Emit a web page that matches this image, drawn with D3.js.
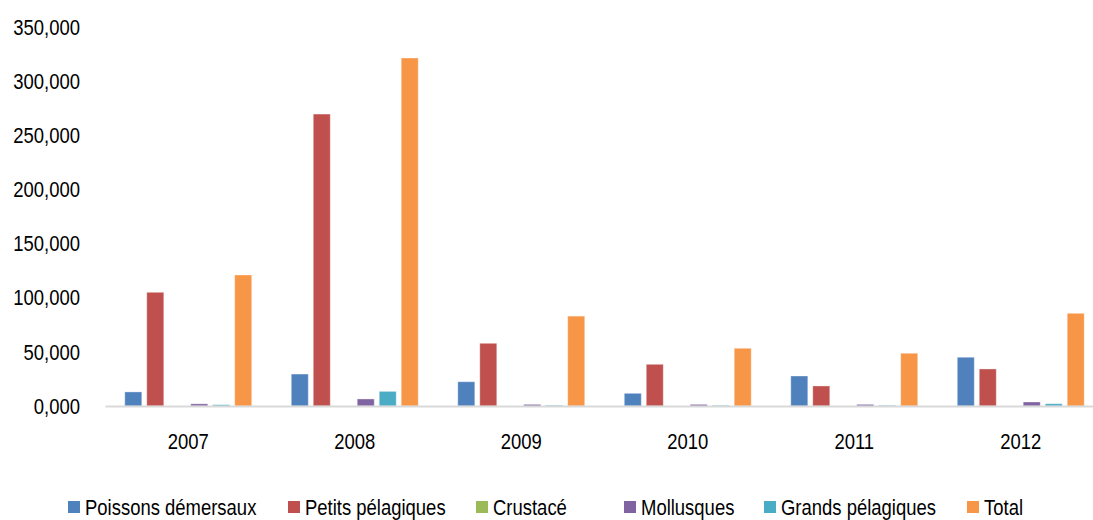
<!DOCTYPE html>
<html>
<head>
<meta charset="utf-8">
<script src="https://cdn.jsdelivr.net/npm/d3@7"></script>
<style>
  body { margin: 0; background: #fff; }
  text { font-family: "Liberation Sans", Arial, sans-serif; fill: #000; }
</style>
</head>
<body>
<div id="chart"></div>
<script>
// Data (tonnes)
var years = ['2007', '2008', '2009', '2010', '2011', '2012'];
var series = ['Poissons démersaux', 'Petits pélagiques', 'Crustacé', 'Mollusques', 'Grands pélagiques', 'Total'];
var demersaux = [13000, 29500, 22400, 11700, 27700, 45000];
var petitsPelagiques = [105000, 269600, 57900, 38500, 18500, 34200];
var crustace = [0, 0, 0, 0, 0, 0];
var mollusques = [2000, 6500, 1500, 1500, 1500, 3700];
var grandsPelagiques = [1200, 13500, 700, 600, 600, 2100];
var total = [121000, 321400, 83000, 53300, 48700, 85600];
var yTicks = [0, 50000, 100000, 150000, 200000, 250000, 300000, 350000];

var colors = ['#4F81BD', '#C0504D', '#9BBB59', '#8064A2', '#4BACC6', '#F79646'];
var values = [demersaux, petitsPelagiques, crustace, mollusques, grandsPelagiques, total];

var width = 1093;
var height = 520;
// no narrow font installed, so squeeze the regular one
var squeeze = 'scale(0.84,1)';

var svg = d3.select('#chart').append('svg')
    .attr('width', width)
    .attr('height', height);

var x0 = d3.scaleBand()
    .domain(years)
    .range([105, 1104]);

var x1 = d3.scaleBand()
    .domain(series)
    .range([0, x0.bandwidth()])
    .paddingInner(0.227)
    .paddingOuter(0.9);

var y = d3.scaleLinear()
    .domain([0, 350000])
    .range([406, 27]);

// tick labels look like "350,000" / "0,000"
var fr = d3.formatLocale({decimal: ',', thousands: '.', grouping: [3], currency: ['', '']});
var tickFmt = function(v) { return fr.format('.3f')(v / 1000); };

svg.selectAll('.ytick')
    .data(yTicks)
    .enter().append('g')
    .attr('class', 'ytick')
    .attr('transform', function(d) { return 'translate(80,' + y(d) + ')' + squeeze; })
    .append('text')
    .attr('dy', '0.35em')
    .attr('text-anchor', 'end')
    .style('font-size', '22px')
    .text(tickFmt);

// bars
var groups = svg.selectAll('.year')
    .data(years)
    .enter().append('g')
    .attr('class', 'year')
    .attr('transform', function(d) { return 'translate(' + x0(d) + ',0)'; });

groups.selectAll('rect')
    .data(function(d, i) {
      return series.map(function(s, j) { return {key: s, value: values[j][i], color: colors[j]}; });
    })
    .enter().append('rect')
    .attr('x', function(d) { return x1(d.key); })
    .attr('width', x1.bandwidth())
    .attr('y', function(d) { return y(d.value); })
    .attr('height', function(d) { return y(0) - y(d.value); })
    .style('fill', function(d) { return d.color; })
    .style('stroke', 'rgba(255,255,255,0.35)')
    .style('stroke-width', 1);

// x axis line
var xAxis = d3.axisBottom(x0).tickSize(0).tickPadding(27);
var gx = svg.append('g')
    .attr('transform', 'translate(0,' + y(0) + ')')
    .call(xAxis);
gx.select('.domain').attr('stroke', '#D9D9D9').attr('stroke-width', 2);
gx.selectAll('text')
    .style('font-size', '22px')
    .style('font-family', '"Liberation Sans", Arial, sans-serif')
    .attr('fill', '#000')
    .attr('transform', squeeze);

// legend
var legendX = [68, 288, 476, 624, 764, 967];
var legend = svg.selectAll('.legend')
    .data(series)
    .enter().append('g')
    .attr('class', 'legend')
    .attr('transform', function(d, i) { return 'translate(' + legendX[i] + ',501)'; });

legend.append('rect')
    .attr('width', 12)
    .attr('height', 12)
    .style('fill', function(d, i) { return colors[i]; });

legend.append('g')
    .attr('transform', 'translate(17,6)' + squeeze)
    .append('text')
    .attr('dy', '0.35em')
    .style('font-size', '22px')
    .text(function(d) { return d; });
</script>
</body>
</html>
